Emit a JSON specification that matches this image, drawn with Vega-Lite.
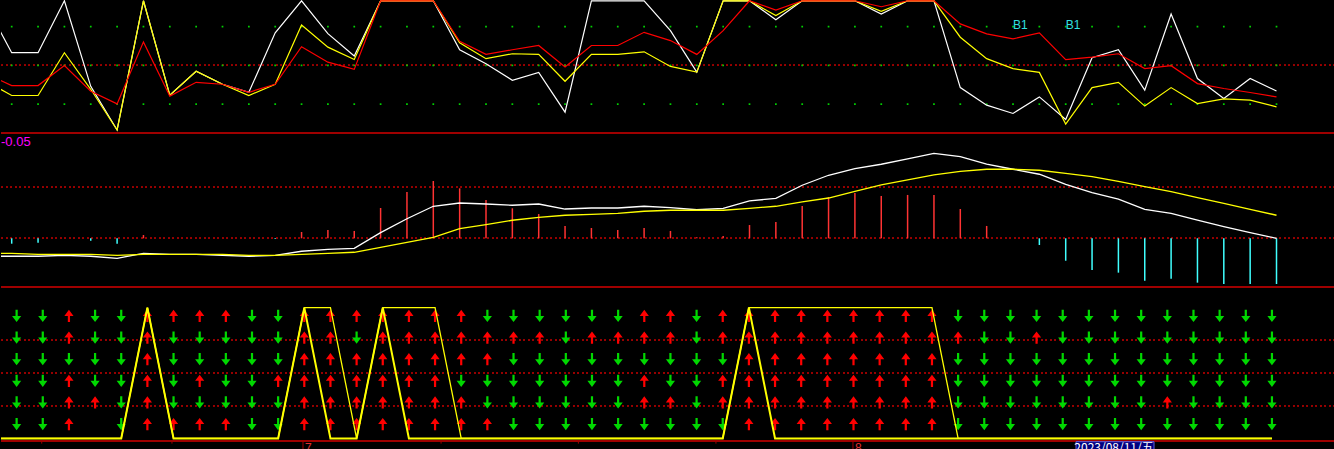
{
"$schema": "https://vega.github.io/schema/vega-lite/v6.json",
"background": "#000000",
"padding": 0,
"spacing": 0,
"config": {"view": {"stroke": null}, "concat": {"spacing": 0}},
"datasets": {
"main": [
{"k":-1,"J":97.7,"K":38.1,"D":43.8,"dif":-0.0176,"dea":-0.0147,"macd":0,"A":0,"B":0},
{"k":0,"J":59.8,"K":26.7,"D":34.4,"dif":-0.0176,"dea":-0.0147,"macd":-0.0053,"A":0,"B":0},
{"k":1,"J":59.8,"K":26.7,"D":34.4,"dif":-0.0176,"dea":-0.0157,"macd":-0.0043,"A":0,"B":0},
{"k":2,"J":100,"K":59.8,"D":49.8,"dif":-0.0167,"dea":-0.0157,"macd":0,"A":0,"B":0},
{"k":3,"J":33.8,"K":31.5,"D":30.0,"dif":-0.0176,"dea":-0.0157,"macd":-0.0024,"A":0,"B":0},
{"k":4,"J":0,"K":0,"D":20.2,"dif":-0.0196,"dea":-0.0167,"macd":-0.0053,"A":0,"B":0},
{"k":5,"J":100,"K":100,"D":68.2,"dif":-0.0147,"dea":-0.0157,"macd":0.0032,"A":1,"B":1},
{"k":6,"J":26.9,"K":26.9,"D":26.2,"dif":-0.0157,"dea":-0.0157,"macd":0,"A":0,"B":0},
{"k":7,"J":45.4,"K":45.4,"D":36.9,"dif":-0.0157,"dea":-0.0157,"macd":0,"A":0,"B":0},
{"k":8,"J":35.4,"K":35.4,"D":35.4,"dif":-0.0167,"dea":-0.0157,"macd":0,"A":0,"B":0},
{"k":9,"J":29.2,"K":26.7,"D":29.2,"dif":-0.0176,"dea":-0.0167,"macd":0,"A":0,"B":0},
{"k":10,"J":75.2,"K":35.4,"D":35.4,"dif":-0.0167,"dea":-0.0167,"macd":-0.0007,"A":0,"B":0},
{"k":11,"J":100,"K":81.3,"D":64.4,"dif":-0.0127,"dea":-0.0157,"macd":0.0062,"A":1,"B":1},
{"k":12,"J":74.6,"K":64.1,"D":52.5,"dif":-0.0108,"dea":-0.0147,"macd":0.0081,"A":0,"B":1},
{"k":13,"J":57.2,"K":54.6,"D":46.9,"dif":-0.0098,"dea":-0.0137,"macd":0.0072,"A":0,"B":0},
{"k":14,"J":100,"K":100,"D":100,"dif":0.0055,"dea":-0.0088,"macd":0.0297,"A":1,"B":1},
{"k":15,"J":100,"K":100,"D":100,"dif":0.0192,"dea":-0.0039,"macd":0.0454,"A":0,"B":1},
{"k":16,"J":100,"K":100,"D":100,"dif":0.0314,"dea":0.0010,"macd":0.0562,"A":0,"B":1},
{"k":17,"J":62.1,"K":67.5,"D":68.7,"dif":0.0346,"dea":0.0094,"macd":0.0490,"A":0,"B":0},
{"k":18,"J":51.3,"K":55.2,"D":58.5,"dif":0.0336,"dea":0.0133,"macd":0.0376,"A":0,"B":0},
{"k":19,"J":38.5,"K":59.0,"D":62.1,"dif":0.0324,"dea":0.0177,"macd":0.0294,"A":0,"B":0},
{"k":20,"J":44.6,"K":58.5,"D":65.4,"dif":0.0336,"dea":0.0206,"macd":0.0238,"A":0,"B":0},
{"k":21,"J":13.8,"K":37.7,"D":48.7,"dif":0.0287,"dea":0.0226,"macd":0.0121,"A":0,"B":0},
{"k":22,"J":100,"K":58.5,"D":65.4,"dif":0.0297,"dea":0.0235,"macd":0.0101,"A":0,"B":0},
{"k":23,"J":100,"K":58.5,"D":65.4,"dif":0.0297,"dea":0.0245,"macd":0.0081,"A":0,"B":0},
{"k":24,"J":100,"K":60.5,"D":75.6,"dif":0.0314,"dea":0.0265,"macd":0.0101,"A":0,"B":0},
{"k":25,"J":76.9,"K":49.2,"D":69.2,"dif":0.0300,"dea":0.0275,"macd":0.0072,"A":0,"B":0},
{"k":26,"J":44.8,"K":44.8,"D":58.5,"dif":0.0280,"dea":0.0275,"macd":0.0010,"A":0,"B":0},
{"k":27,"J":100,"K":100,"D":76.9,"dif":0.0294,"dea":0.0275,"macd":0.0023,"A":0,"B":0},
{"k":28,"J":100,"K":100,"D":100,"dif":0.0366,"dea":0.0294,"macd":0.0130,"A":1,"B":1},
{"k":29,"J":85.4,"K":88.5,"D":92.8,"dif":0.0392,"dea":0.0314,"macd":0.0160,"A":0,"B":1},
{"k":30,"J":100,"K":100,"D":100,"dif":0.0520,"dea":0.0356,"macd":0.0317,"A":0,"B":1},
{"k":31,"J":100,"K":100,"D":100,"dif":0.0618,"dea":0.0395,"macd":0.0405,"A":0,"B":1},
{"k":32,"J":100,"K":100,"D":100,"dif":0.0682,"dea":0.0461,"macd":0.0444,"A":0,"B":1},
{"k":33,"J":89.8,"K":91.8,"D":95.4,"dif":0.0726,"dea":0.0523,"macd":0.0415,"A":0,"B":1},
{"k":34,"J":100,"K":100,"D":100,"dif":0.0778,"dea":0.0572,"macd":0.0425,"A":0,"B":1},
{"k":35,"J":100,"K":100,"D":100,"dif":0.0833,"dea":0.0621,"macd":0.0425,"A":0,"B":1},
{"k":36,"J":32.8,"K":71.8,"D":82.1,"dif":0.0800,"dea":0.0657,"macd":0.0287,"A":0,"B":0},
{"k":37,"J":19.2,"K":55.2,"D":74.4,"dif":0.0728,"dea":0.0677,"macd":0.0121,"A":0,"B":0},
{"k":38,"J":12.8,"K":47.5,"D":70.5,"dif":0.0677,"dea":0.0677,"macd":0,"A":0,"B":0},
{"k":39,"J":25.6,"K":44.6,"D":75.2,"dif":0.0628,"dea":0.0667,"macd":-0.0066,"A":0,"B":0},
{"k":40,"J":8.2,"K":4.6,"D":54.4,"dif":0.0529,"dea":0.0637,"macd":-0.0220,"A":0,"B":0},
{"k":41,"J":55.9,"K":32.8,"D":56.4,"dif":0.0447,"dea":0.0604,"macd":-0.0311,"A":0,"B":0},
{"k":42,"J":62.1,"K":36.9,"D":59.0,"dif":0.0385,"dea":0.0559,"macd":-0.0337,"A":0,"B":0},
{"k":43,"J":30.8,"K":18.5,"D":47.5,"dif":0.0284,"dea":0.0506,"macd":-0.0416,"A":0,"B":0},
{"k":44,"J":89.8,"K":32.8,"D":49.8,"dif":0.0245,"dea":0.0457,"macd":-0.0396,"A":0,"B":0},
{"k":45,"J":39.8,"K":20.5,"D":35.9,"dif":0.0177,"dea":0.0398,"macd":-0.0435,"A":0,"B":0},
{"k":46,"J":24.4,"K":24.1,"D":32.1,"dif":0.0114,"dea":0.0343,"macd":-0.0448,"A":0,"B":0},
{"k":47,"J":39.8,"K":23.1,"D":29.0,"dif":0.0055,"dea":0.0284,"macd":-0.0448,"A":0,"B":0},
{"k":48,"J":30.2,"K":17.9,"D":25.6,"dif":0.0,"dea":0.0226,"macd":-0.0448,"A":0,"B":0}
],
"sig": [{"k":38,"v":81,"label":"B1"},{"k":40,"v":81,"label":"B1"}],
"title2": [{"k":-0.4061,"v":0.0944,"label":"-0.05"}],
"ticks": [{"t":0.96,"long":0,"lab":""},{"t":5.94,"long":0,"lab":""},{"t":10.95,"long":1,"lab":"7"},{"t":16.23,"long":0,"lab":""},{"t":21.48,"long":0,"lab":""},{"t":26.74,"long":0,"lab":""},{"t":31.98,"long":1,"lab":"8"}],
"cursor": [{"k":42,"label":"2023/08/11/五"}],
"arrows": [
{"k":0,"r":1,"s":"D"},{"k":0,"r":2,"s":"D"},{"k":0,"r":3,"s":"D"},{"k":0,"r":4,"s":"D"},{"k":0,"r":5,"s":"D"},{"k":0,"r":6,"s":"D"},
{"k":1,"r":1,"s":"D"},{"k":1,"r":2,"s":"D"},{"k":1,"r":3,"s":"D"},{"k":1,"r":4,"s":"D"},{"k":1,"r":5,"s":"D"},{"k":1,"r":6,"s":"D"},
{"k":2,"r":1,"s":"U"},{"k":2,"r":2,"s":"U"},{"k":2,"r":3,"s":"D"},{"k":2,"r":4,"s":"U"},{"k":2,"r":5,"s":"U"},{"k":2,"r":6,"s":"U"},
{"k":3,"r":1,"s":"D"},{"k":3,"r":2,"s":"D"},{"k":3,"r":3,"s":"D"},{"k":3,"r":4,"s":"D"},{"k":3,"r":5,"s":"U"},
{"k":4,"r":1,"s":"D"},{"k":4,"r":2,"s":"D"},{"k":4,"r":3,"s":"D"},{"k":4,"r":4,"s":"D"},{"k":4,"r":5,"s":"D"},{"k":4,"r":6,"s":"D"},
{"k":5,"r":1,"s":"U"},{"k":5,"r":2,"s":"U"},{"k":5,"r":3,"s":"U"},{"k":5,"r":4,"s":"U"},{"k":5,"r":5,"s":"U"},{"k":5,"r":6,"s":"U"},
{"k":6,"r":1,"s":"U"},{"k":6,"r":2,"s":"D"},{"k":6,"r":3,"s":"D"},{"k":6,"r":4,"s":"D"},{"k":6,"r":5,"s":"D"},{"k":6,"r":6,"s":"U"},
{"k":7,"r":1,"s":"U"},{"k":7,"r":2,"s":"D"},{"k":7,"r":3,"s":"D"},{"k":7,"r":4,"s":"U"},{"k":7,"r":5,"s":"D"},{"k":7,"r":6,"s":"U"},
{"k":8,"r":1,"s":"U"},{"k":8,"r":2,"s":"D"},{"k":8,"r":3,"s":"D"},{"k":8,"r":4,"s":"D"},{"k":8,"r":5,"s":"D"},{"k":8,"r":6,"s":"U"},
{"k":9,"r":1,"s":"D"},{"k":9,"r":2,"s":"D"},{"k":9,"r":3,"s":"D"},{"k":9,"r":4,"s":"D"},{"k":9,"r":5,"s":"D"},{"k":9,"r":6,"s":"D"},
{"k":10,"r":1,"s":"D"},{"k":10,"r":2,"s":"D"},{"k":10,"r":3,"s":"D"},{"k":10,"r":4,"s":"U"},{"k":10,"r":5,"s":"D"},{"k":10,"r":6,"s":"D"},
{"k":11,"r":1,"s":"U"},{"k":11,"r":2,"s":"U"},{"k":11,"r":3,"s":"U"},{"k":11,"r":4,"s":"U"},{"k":11,"r":5,"s":"U"},{"k":11,"r":6,"s":"U"},
{"k":12,"r":1,"s":"U"},{"k":12,"r":2,"s":"U"},{"k":12,"r":3,"s":"U"},{"k":12,"r":4,"s":"U"},{"k":12,"r":5,"s":"U"},{"k":12,"r":6,"s":"U"},
{"k":13,"r":1,"s":"U"},{"k":13,"r":2,"s":"D"},{"k":13,"r":3,"s":"U"},{"k":13,"r":4,"s":"U"},{"k":13,"r":5,"s":"U"},{"k":13,"r":6,"s":"U"},
{"k":14,"r":1,"s":"U"},{"k":14,"r":2,"s":"U"},{"k":14,"r":3,"s":"U"},{"k":14,"r":4,"s":"U"},{"k":14,"r":5,"s":"U"},{"k":14,"r":6,"s":"U"},
{"k":15,"r":1,"s":"U"},{"k":15,"r":2,"s":"U"},{"k":15,"r":3,"s":"U"},{"k":15,"r":4,"s":"U"},{"k":15,"r":5,"s":"U"},{"k":15,"r":6,"s":"U"},
{"k":16,"r":1,"s":"U"},{"k":16,"r":2,"s":"U"},{"k":16,"r":3,"s":"U"},{"k":16,"r":4,"s":"U"},{"k":16,"r":5,"s":"U"},{"k":16,"r":6,"s":"U"},
{"k":17,"r":1,"s":"U"},{"k":17,"r":2,"s":"U"},{"k":17,"r":3,"s":"U"},{"k":17,"r":4,"s":"D"},{"k":17,"r":5,"s":"U"},{"k":17,"r":6,"s":"U"},
{"k":18,"r":1,"s":"D"},{"k":18,"r":2,"s":"U"},{"k":18,"r":3,"s":"U"},{"k":18,"r":4,"s":"D"},{"k":18,"r":5,"s":"D"},{"k":18,"r":6,"s":"U"},
{"k":19,"r":1,"s":"D"},{"k":19,"r":2,"s":"U"},{"k":19,"r":3,"s":"D"},{"k":19,"r":4,"s":"D"},{"k":19,"r":5,"s":"D"},{"k":19,"r":6,"s":"D"},
{"k":20,"r":1,"s":"D"},{"k":20,"r":2,"s":"U"},{"k":20,"r":3,"s":"D"},{"k":20,"r":4,"s":"D"},{"k":20,"r":5,"s":"D"},{"k":20,"r":6,"s":"D"},
{"k":21,"r":1,"s":"D"},{"k":21,"r":2,"s":"D"},{"k":21,"r":3,"s":"D"},{"k":21,"r":4,"s":"D"},{"k":21,"r":5,"s":"D"},{"k":21,"r":6,"s":"D"},
{"k":22,"r":1,"s":"D"},{"k":22,"r":2,"s":"U"},{"k":22,"r":3,"s":"D"},{"k":22,"r":4,"s":"D"},{"k":22,"r":5,"s":"D"},{"k":22,"r":6,"s":"D"},
{"k":23,"r":1,"s":"D"},{"k":23,"r":2,"s":"U"},{"k":23,"r":3,"s":"D"},{"k":23,"r":4,"s":"D"},{"k":23,"r":5,"s":"D"},{"k":23,"r":6,"s":"D"},
{"k":24,"r":1,"s":"U"},{"k":24,"r":2,"s":"U"},{"k":24,"r":3,"s":"D"},{"k":24,"r":4,"s":"U"},{"k":24,"r":5,"s":"U"},{"k":24,"r":6,"s":"D"},
{"k":25,"r":1,"s":"U"},{"k":25,"r":2,"s":"U"},{"k":25,"r":3,"s":"D"},{"k":25,"r":4,"s":"D"},{"k":25,"r":5,"s":"U"},{"k":25,"r":6,"s":"D"},
{"k":26,"r":1,"s":"D"},{"k":26,"r":2,"s":"D"},{"k":26,"r":3,"s":"D"},{"k":26,"r":4,"s":"D"},{"k":26,"r":5,"s":"D"},{"k":26,"r":6,"s":"D"},
{"k":27,"r":1,"s":"U"},{"k":27,"r":2,"s":"U"},{"k":27,"r":3,"s":"D"},{"k":27,"r":4,"s":"U"},{"k":27,"r":5,"s":"U"},{"k":27,"r":6,"s":"D"},
{"k":28,"r":1,"s":"U"},{"k":28,"r":2,"s":"U"},{"k":28,"r":3,"s":"U"},{"k":28,"r":4,"s":"U"},{"k":28,"r":5,"s":"U"},{"k":28,"r":6,"s":"U"},
{"k":29,"r":1,"s":"U"},{"k":29,"r":2,"s":"U"},{"k":29,"r":3,"s":"U"},{"k":29,"r":4,"s":"U"},{"k":29,"r":5,"s":"U"},{"k":29,"r":6,"s":"U"},
{"k":30,"r":1,"s":"U"},{"k":30,"r":2,"s":"U"},{"k":30,"r":3,"s":"U"},{"k":30,"r":4,"s":"U"},{"k":30,"r":5,"s":"U"},{"k":30,"r":6,"s":"U"},
{"k":31,"r":1,"s":"U"},{"k":31,"r":2,"s":"U"},{"k":31,"r":3,"s":"U"},{"k":31,"r":4,"s":"U"},{"k":31,"r":5,"s":"U"},{"k":31,"r":6,"s":"U"},
{"k":32,"r":1,"s":"U"},{"k":32,"r":2,"s":"U"},{"k":32,"r":3,"s":"U"},{"k":32,"r":4,"s":"U"},{"k":32,"r":5,"s":"U"},{"k":32,"r":6,"s":"U"},
{"k":33,"r":1,"s":"U"},{"k":33,"r":2,"s":"U"},{"k":33,"r":3,"s":"U"},{"k":33,"r":4,"s":"U"},{"k":33,"r":5,"s":"U"},{"k":33,"r":6,"s":"U"},
{"k":34,"r":1,"s":"U"},{"k":34,"r":2,"s":"U"},{"k":34,"r":3,"s":"U"},{"k":34,"r":4,"s":"U"},{"k":34,"r":5,"s":"U"},{"k":34,"r":6,"s":"U"},
{"k":35,"r":1,"s":"U"},{"k":35,"r":2,"s":"U"},{"k":35,"r":3,"s":"U"},{"k":35,"r":4,"s":"U"},{"k":35,"r":5,"s":"U"},{"k":35,"r":6,"s":"U"},
{"k":36,"r":1,"s":"D"},{"k":36,"r":2,"s":"U"},{"k":36,"r":3,"s":"D"},{"k":36,"r":4,"s":"D"},{"k":36,"r":5,"s":"D"},{"k":36,"r":6,"s":"D"},
{"k":37,"r":1,"s":"D"},{"k":37,"r":2,"s":"D"},{"k":37,"r":3,"s":"D"},{"k":37,"r":4,"s":"D"},{"k":37,"r":5,"s":"D"},{"k":37,"r":6,"s":"D"},
{"k":38,"r":1,"s":"D"},{"k":38,"r":2,"s":"D"},{"k":38,"r":3,"s":"D"},{"k":38,"r":4,"s":"D"},{"k":38,"r":5,"s":"D"},{"k":38,"r":6,"s":"D"},
{"k":39,"r":1,"s":"D"},{"k":39,"r":2,"s":"U"},{"k":39,"r":3,"s":"D"},{"k":39,"r":4,"s":"D"},{"k":39,"r":5,"s":"D"},{"k":39,"r":6,"s":"D"},
{"k":40,"r":1,"s":"D"},{"k":40,"r":2,"s":"D"},{"k":40,"r":3,"s":"D"},{"k":40,"r":4,"s":"D"},{"k":40,"r":5,"s":"D"},{"k":40,"r":6,"s":"D"},
{"k":41,"r":1,"s":"D"},{"k":41,"r":2,"s":"D"},{"k":41,"r":3,"s":"D"},{"k":41,"r":4,"s":"D"},{"k":41,"r":5,"s":"D"},{"k":41,"r":6,"s":"D"},
{"k":42,"r":1,"s":"D"},{"k":42,"r":2,"s":"D"},{"k":42,"r":3,"s":"D"},{"k":42,"r":4,"s":"D"},{"k":42,"r":5,"s":"D"},{"k":42,"r":6,"s":"D"},
{"k":43,"r":1,"s":"D"},{"k":43,"r":2,"s":"D"},{"k":43,"r":3,"s":"D"},{"k":43,"r":4,"s":"D"},{"k":43,"r":5,"s":"D"},{"k":43,"r":6,"s":"D"},
{"k":44,"r":1,"s":"D"},{"k":44,"r":2,"s":"D"},{"k":44,"r":3,"s":"D"},{"k":44,"r":4,"s":"D"},{"k":44,"r":5,"s":"U"},{"k":44,"r":6,"s":"D"},
{"k":45,"r":1,"s":"D"},{"k":45,"r":2,"s":"D"},{"k":45,"r":3,"s":"D"},{"k":45,"r":4,"s":"D"},{"k":45,"r":5,"s":"D"},{"k":45,"r":6,"s":"D"},
{"k":46,"r":1,"s":"D"},{"k":46,"r":2,"s":"D"},{"k":46,"r":3,"s":"D"},{"k":46,"r":4,"s":"D"},{"k":46,"r":5,"s":"D"},{"k":46,"r":6,"s":"D"},
{"k":47,"r":1,"s":"D"},{"k":47,"r":2,"s":"D"},{"k":47,"r":3,"s":"D"},{"k":47,"r":4,"s":"D"},{"k":47,"r":5,"s":"D"},{"k":47,"r":6,"s":"D"},
{"k":48,"r":1,"s":"D"},{"k":48,"r":2,"s":"D"},{"k":48,"r":3,"s":"D"},{"k":48,"r":4,"s":"D"},{"k":48,"r":5,"s":"D"},{"k":48,"r":6,"s":"D"}
]
},
"vconcat": [
{
"width": 1334, "height": 134,
"data": {"name": "main"},
"layer": [
{"mark": {"type": "rule", "color": "#990000", "strokeDash": [1.5, 3], "strokeWidth": 1},
 "encoding": {"y": {"datum": 50, "type": "quantitative", "scale": {"domain": [-3.1, 100.6], "nice": false, "zero": false}, "axis": null}}},
{"mark": {"type": "square", "color": "#00d000", "size": 3, "opacity": 1, "clip": true},
 "encoding": {"x": {"field": "k", "type": "quantitative", "scale": {"domain": [-0.4061, 50.2199], "nice": false, "zero": false}, "axis": null},
  "y": {"datum": 80, "type": "quantitative", "scale": {"domain": [-3.1, 100.6], "nice": false, "zero": false}, "axis": null}}},
{"mark": {"type": "square", "color": "#00d000", "size": 3, "opacity": 1, "clip": true},
 "encoding": {"x": {"field": "k", "type": "quantitative", "scale": {"domain": [-0.4061, 50.2199], "nice": false, "zero": false}, "axis": null},
  "y": {"datum": 50, "type": "quantitative", "scale": {"domain": [-3.1, 100.6], "nice": false, "zero": false}, "axis": null}}},
{"mark": {"type": "square", "color": "#00d000", "size": 3, "opacity": 1, "clip": true},
 "encoding": {"x": {"field": "k", "type": "quantitative", "scale": {"domain": [-0.4061, 50.2199], "nice": false, "zero": false}, "axis": null},
  "y": {"datum": 20, "type": "quantitative", "scale": {"domain": [-3.1, 100.6], "nice": false, "zero": false}, "axis": null}}},
{"mark": {"type": "line", "color": "#ffffff", "strokeWidth": 1.2, "clip": true},
 "encoding": {"x": {"field": "k", "type": "quantitative", "scale": {"domain": [-0.4061, 50.2199], "nice": false, "zero": false}, "axis": null},
  "y": {"field": "J", "type": "quantitative", "scale": {"domain": [-3.1, 100.6], "nice": false, "zero": false}, "axis": null}}},
{"mark": {"type": "line", "color": "#ffff00", "strokeWidth": 1.2, "clip": true},
 "encoding": {"x": {"field": "k", "type": "quantitative", "scale": {"domain": [-0.4061, 50.2199], "nice": false, "zero": false}, "axis": null},
  "y": {"field": "K", "type": "quantitative", "scale": {"domain": [-3.1, 100.6], "nice": false, "zero": false}, "axis": null}}},
{"mark": {"type": "line", "color": "#ff0000", "strokeWidth": 1.2, "clip": true},
 "encoding": {"x": {"field": "k", "type": "quantitative", "scale": {"domain": [-0.4061, 50.2199], "nice": false, "zero": false}, "axis": null},
  "y": {"field": "D", "type": "quantitative", "scale": {"domain": [-3.1, 100.6], "nice": false, "zero": false}, "axis": null}}},
{"mark": {"type": "rule", "color": "#a00000", "strokeWidth": 1},
 "encoding": {"y": {"datum": -2.3, "type": "quantitative", "scale": {"domain": [-3.1, 100.6], "nice": false, "zero": false}, "axis": null}}},
{"data": {"name": "sig"},
 "mark": {"type": "text", "color": "#30e0e0", "fontSize": 12, "font": "Liberation Sans", "align": "left", "baseline": "middle", "clip": true},
 "encoding": {"x": {"field": "k", "type": "quantitative", "scale": {"domain": [-0.4061, 50.2199], "nice": false, "zero": false}, "axis": null},
  "y": {"field": "v", "type": "quantitative", "scale": {"domain": [-3.1, 100.6], "nice": false, "zero": false}, "axis": null},
  "text": {"field": "label"}}}
]
},
{
"width": 1334, "height": 154,
"data": {"name": "main"},
"layer": [
{"mark": {"type": "rule", "color": "#990000", "strokeDash": [1.5, 3], "strokeWidth": 1},
 "encoding": {"y": {"datum": 0, "type": "quantitative", "scale": {"domain": [-0.04873, 0.10225], "nice": false, "zero": false}, "axis": null}}},
{"mark": {"type": "rule", "color": "#990000", "strokeDash": [1.5, 3], "strokeWidth": 1},
 "encoding": {"y": {"datum": 0.05, "type": "quantitative", "scale": {"domain": [-0.04873, 0.10225], "nice": false, "zero": false}, "axis": null}}},
{"mark": {"type": "rule", "strokeWidth": 1.5, "clip": true},
 "encoding": {"x": {"field": "k", "type": "quantitative", "scale": {"domain": [-0.4061, 50.2199], "nice": false, "zero": false}, "axis": null},
  "y": {"field": "macd", "type": "quantitative", "scale": {"domain": [-0.04873, 0.10225], "nice": false, "zero": false}, "axis": null},
  "y2": {"datum": 0},
  "color": {"condition": {"test": "datum.macd < 0", "value": "#40ffff"}, "value": "#ff3333"}}},
{"mark": {"type": "line", "color": "#ffffff", "strokeWidth": 1.3, "clip": true},
 "encoding": {"x": {"field": "k", "type": "quantitative", "scale": {"domain": [-0.4061, 50.2199], "nice": false, "zero": false}, "axis": null},
  "y": {"field": "dif", "type": "quantitative", "scale": {"domain": [-0.04873, 0.10225], "nice": false, "zero": false}, "axis": null}}},
{"mark": {"type": "line", "color": "#ffff00", "strokeWidth": 1.3, "clip": true},
 "encoding": {"x": {"field": "k", "type": "quantitative", "scale": {"domain": [-0.4061, 50.2199], "nice": false, "zero": false}, "axis": null},
  "y": {"field": "dea", "type": "quantitative", "scale": {"domain": [-0.04873, 0.10225], "nice": false, "zero": false}, "axis": null}}},
{"mark": {"type": "rule", "color": "#a00000", "strokeWidth": 1},
 "encoding": {"y": {"datum": -0.04775, "type": "quantitative", "scale": {"domain": [-0.04873, 0.10225], "nice": false, "zero": false}, "axis": null}}},
{"data": {"name": "title2"},
 "mark": {"type": "text", "color": "#ff00ff", "fontSize": 13, "font": "Liberation Sans Narrow, Liberation Sans", "align": "left", "baseline": "middle", "clip": true},
 "encoding": {"x": {"field": "k", "type": "quantitative", "scale": {"domain": [-0.4061, 50.2199], "nice": false, "zero": false}, "axis": null},
  "y": {"field": "v", "type": "quantitative", "scale": {"domain": [-0.04873, 0.10225], "nice": false, "zero": false}, "axis": null},
  "text": {"field": "label"}}}
]
},
{
"width": 1334, "height": 161,
"data": {"name": "main"},
"resolve": {"scale": {"y": "independent", "color": "independent", "shape": "independent"}},
"layer": [
{"mark": {"type": "rule", "color": "#990000", "strokeDash": [1.5, 3], "strokeWidth": 1},
 "encoding": {"y": {"datum": 0.75, "type": "quantitative", "scale": {"domain": [-0.081, 1.1498], "nice": false, "zero": false}, "axis": null}}},
{"mark": {"type": "rule", "color": "#990000", "strokeDash": [1.5, 3], "strokeWidth": 1},
 "encoding": {"y": {"datum": 0.5, "type": "quantitative", "scale": {"domain": [-0.081, 1.1498], "nice": false, "zero": false}, "axis": null}}},
{"mark": {"type": "rule", "color": "#990000", "strokeDash": [1.5, 3], "strokeWidth": 1},
 "encoding": {"y": {"datum": 0.25, "type": "quantitative", "scale": {"domain": [-0.081, 1.1498], "nice": false, "zero": false}, "axis": null}}},
{"data": {"name": "arrows"},
 "mark": {"type": "point", "filled": true, "size": 150, "opacity": 1, "strokeWidth": 0, "clip": true},
 "encoding": {"x": {"field": "k", "type": "quantitative", "scale": {"domain": [-0.4061, 50.2199], "nice": false, "zero": false}, "axis": null},
  "y": {"field": "r", "type": "quantitative", "scale": {"domain": [-0.296, 7.157], "reverse": true, "nice": false, "zero": false}, "axis": null},
  "shape": {"field": "s", "type": "nominal", "scale": {"domain": ["U", "D"], "range": ["M0,-1L0.75,0L0.18,0L0.18,1L-0.18,1L-0.18,0L-0.75,0Z", "M0,1L0.75,0L0.18,0L0.18,-1L-0.18,-1L-0.18,0L-0.75,0Z"]}, "legend": null},
  "color": {"field": "s", "type": "nominal", "scale": {"domain": ["U", "D"], "range": ["#ff0000", "#00d800"]}, "legend": null}}},
{"mark": {"type": "line", "color": "#ffff00", "strokeWidth": 1.3, "clip": true},
 "encoding": {"x": {"field": "k", "type": "quantitative", "scale": {"domain": [-0.4061, 50.2199], "nice": false, "zero": false}, "axis": null},
  "y": {"field": "B", "type": "quantitative", "scale": {"domain": [-0.081, 1.1498], "nice": false, "zero": false}, "axis": null}}},
{"mark": {"type": "line", "color": "#ffff00", "strokeWidth": 2, "clip": true},
 "encoding": {"x": {"field": "k", "type": "quantitative", "scale": {"domain": [-0.4061, 50.2199], "nice": false, "zero": false}, "axis": null},
  "y": {"field": "A", "type": "quantitative", "scale": {"domain": [-0.081, 1.1498], "nice": false, "zero": false}, "axis": null}}},
{"mark": {"type": "rule", "color": "#a00000", "strokeWidth": 1},
 "encoding": {"y": {"datum": -0.0176, "type": "quantitative", "scale": {"domain": [-0.081, 1.1498], "nice": false, "zero": false}, "axis": null}}},
{"data": {"name": "ticks"},
 "transform": [{"filter": "datum.long == 0"}],
 "mark": {"type": "rule", "color": "#a00000", "strokeWidth": 1, "clip": true},
 "encoding": {"x": {"field": "t", "type": "quantitative", "scale": {"domain": [-0.4061, 50.2199], "nice": false, "zero": false}, "axis": null},
  "y": {"datum": -0.0176, "type": "quantitative", "scale": {"domain": [-0.081, 1.1498], "nice": false, "zero": false}, "axis": null},
  "y2": {"datum": -0.04}}},
{"data": {"name": "ticks"},
 "transform": [{"filter": "datum.long == 1"}],
 "mark": {"type": "rule", "color": "#a00000", "strokeWidth": 1, "clip": true},
 "encoding": {"x": {"field": "t", "type": "quantitative", "scale": {"domain": [-0.4061, 50.2199], "nice": false, "zero": false}, "axis": null},
  "y": {"datum": -0.0176, "type": "quantitative", "scale": {"domain": [-0.081, 1.1498], "nice": false, "zero": false}, "axis": null},
  "y2": {"datum": -0.1}}},
{"data": {"name": "ticks"},
 "transform": [{"filter": "datum.long == 1"}],
 "mark": {"type": "text", "color": "#e03030", "fontSize": 12, "font": "Liberation Sans", "align": "left", "baseline": "top", "dx": 2, "clip": true},
 "encoding": {"x": {"field": "t", "type": "quantitative", "scale": {"domain": [-0.4061, 50.2199], "nice": false, "zero": false}, "axis": null},
  "y": {"datum": -0.038, "type": "quantitative", "scale": {"domain": [-0.081, 1.1498], "nice": false, "zero": false}, "axis": null},
  "text": {"field": "lab"}}},
{"data": {"name": "cursor"},
 "mark": {"type": "bar", "width": 78, "color": "#000080", "stroke": "#6060e0", "strokeWidth": 1, "clip": true},
 "encoding": {"x": {"field": "k", "type": "quantitative", "scale": {"domain": [-0.4061, 50.2199], "nice": false, "zero": false}, "axis": null},
  "y": {"datum": -0.025, "type": "quantitative", "scale": {"domain": [-0.081, 1.1498], "nice": false, "zero": false}, "axis": null},
  "y2": {"datum": -0.12}}},
{"data": {"name": "cursor"},
 "mark": {"type": "text", "color": "#ffffff", "fontSize": 12, "font": "Noto Sans CJK SC", "align": "center", "baseline": "top", "dx": -1, "clip": true},
 "encoding": {"x": {"field": "k", "type": "quantitative", "scale": {"domain": [-0.4061, 50.2199], "nice": false, "zero": false}, "axis": null},
  "y": {"datum": -0.036, "type": "quantitative", "scale": {"domain": [-0.081, 1.1498], "nice": false, "zero": false}, "axis": null},
  "text": {"field": "label"}}}
]
}
]
}
